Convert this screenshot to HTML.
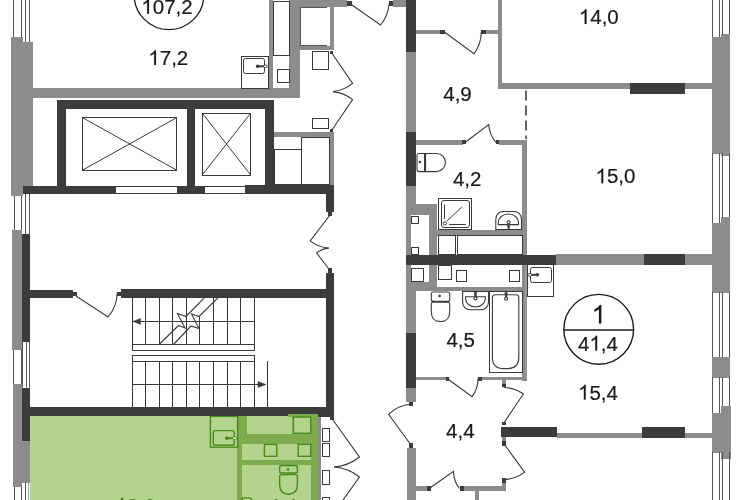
<!DOCTYPE html>
<html><head><meta charset="utf-8"><style>
html,body{margin:0;padding:0;background:#fff;}
body{width:741px;height:500px;overflow:hidden;}
svg{display:block;font-family:"Liberation Sans",sans-serif;will-change:transform;}
</style></head><body>
<svg width="741" height="500" viewBox="0 0 741 500">
<rect x="0" y="0" width="741" height="500" fill="#fff"/>
<line x1="13.50" y1="0.00" x2="13.50" y2="42.00" stroke="#555" stroke-width="1"/>
<line x1="21.50" y1="0.00" x2="21.50" y2="42.00" stroke="#555" stroke-width="1"/>
<line x1="25.50" y1="0.00" x2="25.50" y2="42.00" stroke="#555" stroke-width="1"/>
<line x1="29.50" y1="0.00" x2="29.50" y2="42.00" stroke="#555" stroke-width="1"/>
<rect x="11.40" y="37.30" width="11.50" height="158.80" fill="#8c8c8c" shape-rendering="crispEdges"/>
<rect x="22.90" y="42.00" width="10.10" height="144.30" fill="#8c8c8c" shape-rendering="crispEdges"/>
<line x1="14.50" y1="196.00" x2="14.50" y2="230.00" stroke="#555" stroke-width="1"/>
<line x1="21.50" y1="196.00" x2="21.50" y2="230.00" stroke="#555" stroke-width="1"/>
<line x1="25.50" y1="194.00" x2="25.50" y2="234.00" stroke="#555" stroke-width="1"/>
<line x1="29.50" y1="194.00" x2="29.50" y2="234.00" stroke="#555" stroke-width="1"/>
<rect x="11.90" y="229.70" width="10.10" height="120.60" fill="#8c8c8c" shape-rendering="crispEdges"/>
<rect x="22.00" y="234.00" width="8.10" height="107.90" fill="#3c3c3c" shape-rendering="crispEdges"/>
<line x1="13.50" y1="350.00" x2="13.50" y2="384.00" stroke="#555" stroke-width="1"/>
<line x1="21.50" y1="350.00" x2="21.50" y2="384.00" stroke="#555" stroke-width="1"/>
<line x1="22.50" y1="341.90" x2="22.50" y2="387.50" stroke="#555" stroke-width="1"/>
<line x1="26.50" y1="341.90" x2="26.50" y2="387.50" stroke="#555" stroke-width="1"/>
<line x1="29.50" y1="341.90" x2="29.50" y2="387.50" stroke="#555" stroke-width="1"/>
<rect x="13.00" y="383.60" width="9.00" height="103.10" fill="#8c8c8c" shape-rendering="crispEdges"/>
<rect x="21.70" y="387.50" width="8.40" height="53.50" fill="#3c3c3c" shape-rendering="crispEdges"/>
<rect x="21.70" y="441.00" width="8.40" height="41.50" fill="#8c8c8c" shape-rendering="crispEdges"/>
<line x1="14.50" y1="486.70" x2="14.50" y2="500.00" stroke="#555" stroke-width="1"/>
<line x1="21.50" y1="486.70" x2="21.50" y2="500.00" stroke="#555" stroke-width="1"/>
<line x1="25.50" y1="482.60" x2="25.50" y2="500.00" stroke="#4d4d99" stroke-width="1"/>
<line x1="28.50" y1="482.60" x2="28.50" y2="500.00" stroke="#9aa3c0" stroke-width="1"/>
<line x1="712.50" y1="0.00" x2="712.50" y2="37.00" stroke="#555" stroke-width="1"/>
<line x1="719.50" y1="0.00" x2="719.50" y2="37.00" stroke="#555" stroke-width="1"/>
<line x1="722.50" y1="0.00" x2="722.50" y2="37.00" stroke="#555" stroke-width="1"/>
<line x1="729.50" y1="0.00" x2="729.50" y2="37.00" stroke="#555" stroke-width="1"/>
<rect x="711.50" y="36.60" width="9.50" height="117.00" fill="#8c8c8c" shape-rendering="crispEdges"/>
<rect x="721.00" y="34.20" width="9.40" height="122.20" fill="#8c8c8c" shape-rendering="crispEdges"/>
<line x1="712.50" y1="153.00" x2="712.50" y2="223.00" stroke="#555" stroke-width="1"/>
<line x1="719.50" y1="153.00" x2="719.50" y2="223.00" stroke="#555" stroke-width="1"/>
<line x1="722.50" y1="153.00" x2="722.50" y2="223.00" stroke="#555" stroke-width="1"/>
<line x1="729.50" y1="153.00" x2="729.50" y2="223.00" stroke="#555" stroke-width="1"/>
<rect x="711.50" y="223.00" width="9.50" height="69.50" fill="#8c8c8c" shape-rendering="crispEdges"/>
<rect x="721.00" y="217.00" width="9.40" height="75.50" fill="#8c8c8c" shape-rendering="crispEdges"/>
<line x1="712.50" y1="292.00" x2="712.50" y2="357.00" stroke="#555" stroke-width="1"/>
<line x1="719.50" y1="292.00" x2="719.50" y2="357.00" stroke="#555" stroke-width="1"/>
<line x1="722.50" y1="292.00" x2="722.50" y2="357.00" stroke="#555" stroke-width="1"/>
<line x1="729.50" y1="292.00" x2="729.50" y2="357.00" stroke="#555" stroke-width="1"/>
<rect x="711.50" y="356.50" width="18.90" height="21.00" fill="#8c8c8c" shape-rendering="crispEdges"/>
<line x1="712.50" y1="377.00" x2="712.50" y2="413.00" stroke="#555" stroke-width="1"/>
<line x1="719.50" y1="377.00" x2="719.50" y2="413.00" stroke="#555" stroke-width="1"/>
<line x1="722.50" y1="377.00" x2="722.50" y2="413.00" stroke="#555" stroke-width="1"/>
<line x1="729.50" y1="377.00" x2="729.50" y2="413.00" stroke="#555" stroke-width="1"/>
<rect x="711.50" y="412.50" width="9.50" height="40.00" fill="#8c8c8c" shape-rendering="crispEdges"/>
<rect x="721.00" y="406.30" width="9.50" height="52.50" fill="#8c8c8c" shape-rendering="crispEdges"/>
<line x1="712.50" y1="452.00" x2="712.50" y2="500.00" stroke="#555" stroke-width="1"/>
<line x1="719.50" y1="452.00" x2="719.50" y2="500.00" stroke="#555" stroke-width="1"/>
<line x1="722.50" y1="452.00" x2="722.50" y2="500.00" stroke="#555" stroke-width="1"/>
<line x1="729.50" y1="452.00" x2="729.50" y2="500.00" stroke="#555" stroke-width="1"/>
<rect x="30.10" y="415.50" width="288.30" height="84.50" fill="#b2d48c" shape-rendering="crispEdges"/>
<rect x="317.80" y="415.50" width="3.00" height="84.50" fill="#8e8e8e" shape-rendering="crispEdges"/>
<rect x="311.00" y="414.20" width="7.40" height="85.80" fill="#7dab4e" shape-rendering="crispEdges"/>
<rect x="288.00" y="414.20" width="30.40" height="2.90" fill="#7dab4e" shape-rendering="crispEdges"/>
<rect x="237.40" y="416.00" width="4.70" height="84.00" fill="#7dab4e" shape-rendering="crispEdges"/>
<rect x="242.10" y="416.00" width="4.80" height="17.60" fill="#7dab4e" shape-rendering="crispEdges"/>
<rect x="237.40" y="433.60" width="81.00" height="10.50" fill="#7dab4e" shape-rendering="crispEdges"/>
<rect x="242.10" y="459.70" width="68.90" height="5.30" fill="#7dab4e" shape-rendering="crispEdges"/>
<rect x="293.40" y="417.10" width="17.30" height="16.20" fill="#b2d48c" stroke="#4a891b" stroke-width="1.4"/>
<rect x="292.30" y="417.10" width="1.10" height="16.50" fill="#7dab4e" shape-rendering="crispEdges"/>
<rect x="264.40" y="444.40" width="12.40" height="11.90" fill="#b2d48c" stroke="#4a891b" stroke-width="1.4"/>
<rect x="298.20" y="444.40" width="12.50" height="11.90" fill="#b2d48c" stroke="#4a891b" stroke-width="1.4"/>
<rect x="210.40" y="416.40" width="27.20" height="30.80" fill="#b2d48c" stroke="#4a891b" stroke-width="1.4"/>
<rect x="213.30" y="430.60" width="20.90" height="14.70" fill="#b2d48c" stroke="#4a891b" stroke-width="1.4" rx="2"/>
<line x1="226.80" y1="438.20" x2="234.20" y2="438.20" stroke="#4a891b" stroke-width="2.0"/>
<circle cx="226.80" cy="438.2" r="1.7" fill="#4a891b"/>
<rect x="232.80" y="436.90" width="3.6" height="2.6" rx="1.2" fill="#fff" stroke="#4a891b" stroke-width="0.9"/>
<path d="M279.6,467.5 Q279.6,465.5 281.6,465.5 L295.4,465.5 Q297.4,465.5 297.4,467.5 L297.4,471.2 Q297.4,473 295.4,473 L281.6,473 Q279.6,473 279.6,471.2 Z" stroke="#4a891b" stroke-width="1.4" fill="#b2d48c"/>
<path d="M279.6,476 Q279.6,474.6 281.2,474.6 L295.8,474.6 Q297.4,474.6 297.4,476 L297.4,484.3 Q297.4,494.3 288.5,494.3 Q279.6,494.3 279.6,484.3 Z" stroke="#4a891b" stroke-width="1.4" fill="#b2d48c"/>
<circle cx="288" cy="469.4" r="1.3" fill="#4a891b"/>
<path d="M763,0 L583,0 L583,1147 Q518,1085 412,1023 Q306,961 222,930 L222,1104 Q373,1175 486,1276 Q599,1377 646,1472 L763,1472 Z" transform="translate(115.35,512.6) scale(0.01001,-0.01001)" fill="#3f7a14" stroke="#3f7a14" stroke-width="20.0"/>
<text x="126.75" y="512.6" font-size="20.5" fill="#3f7a14" stroke="#3f7a14" stroke-width="0.2">3</text>
<text x="138.15" y="512.6" font-size="20.5" fill="#3f7a14" stroke="#3f7a14" stroke-width="0.2">,</text>
<text x="143.85" y="512.6" font-size="20.5" fill="#3f7a14" stroke="#3f7a14" stroke-width="0.2">6</text>
<text x="268.55" y="512.8" font-size="20.5" fill="#3f7a14" stroke="#3f7a14" stroke-width="0.2">4</text>
<text x="279.95" y="512.8" font-size="20.5" fill="#3f7a14" stroke="#3f7a14" stroke-width="0.2">,</text>
<text x="285.65" y="512.8" font-size="20.5" fill="#3f7a14" stroke="#3f7a14" stroke-width="0.2">4</text>
<path d="M242.3,503 L242.3,497.9 L249,497.9 Q252.2,497.9 252.2,501.5 L252.2,503" stroke="#4a891b" stroke-width="1.4" fill="none"/>
<rect x="33.00" y="88.30" width="267.00" height="9.20" fill="#8c8c8c" shape-rendering="crispEdges"/>
<circle cx="169" cy="-5.3" r="34.9" fill="none" stroke="#1a1a1a" stroke-width="1.3"/>
<path d="M763,0 L583,0 L583,1147 Q518,1085 412,1023 Q306,961 222,930 L222,1104 Q373,1175 486,1276 Q599,1377 646,1472 L763,1472 Z" transform="translate(141.35,13.7) scale(0.01001,-0.01001)" fill="#1a1a1a" stroke="#1a1a1a" stroke-width="20.0"/>
<text x="152.75" y="13.7" font-size="20.5" fill="#1a1a1a" stroke="#1a1a1a" stroke-width="0.2">0</text>
<text x="164.15" y="13.7" font-size="20.5" fill="#1a1a1a" stroke="#1a1a1a" stroke-width="0.2">7</text>
<text x="175.55" y="13.7" font-size="20.5" fill="#1a1a1a" stroke="#1a1a1a" stroke-width="0.2">,</text>
<text x="181.25" y="13.7" font-size="20.5" fill="#1a1a1a" stroke="#1a1a1a" stroke-width="0.2">2</text>
<path d="M763,0 L583,0 L583,1147 Q518,1085 412,1023 Q306,961 222,930 L222,1104 Q373,1175 486,1276 Q599,1377 646,1472 L763,1472 Z" transform="translate(148.35,64.9) scale(0.01001,-0.01001)" fill="#1a1a1a" stroke="#1a1a1a" stroke-width="20.0"/>
<text x="159.75" y="64.9" font-size="20.5" fill="#1a1a1a" stroke="#1a1a1a" stroke-width="0.2">7</text>
<text x="171.15" y="64.9" font-size="20.5" fill="#1a1a1a" stroke="#1a1a1a" stroke-width="0.2">,</text>
<text x="176.85" y="64.9" font-size="20.5" fill="#1a1a1a" stroke="#1a1a1a" stroke-width="0.2">2</text>
<rect x="269.00" y="0.00" width="31.00" height="88.30" fill="#8c8c8c" shape-rendering="crispEdges"/>
<rect x="273.30" y="0.00" width="16.00" height="88.30" fill="#fff" shape-rendering="crispEdges"/>
<rect x="273.50" y="1.50" width="16.00" height="54.00" fill="#fff" stroke="#3a3a3a" stroke-width="1"/>
<rect x="277.50" y="69.50" width="12.00" height="13.00" fill="#fff" stroke="#3a3a3a" stroke-width="1"/>
<rect x="241.50" y="56.50" width="27.00" height="32.00" fill="#fff" stroke="#3a3a3a" stroke-width="1"/>
<rect x="243.50" y="58.50" width="21.00" height="15.00" fill="#fff" stroke="#3a3a3a" stroke-width="1" rx="2"/>
<line x1="257.60" y1="66.30" x2="265.00" y2="66.30" stroke="#3a3a3a" stroke-width="2.0"/>
<circle cx="257.60" cy="66.3" r="1.7" fill="#3a3a3a"/>
<rect x="263.60" y="65.00" width="3.6" height="2.6" rx="1.2" fill="#fff" stroke="#3a3a3a" stroke-width="0.9"/>
<rect x="289.80" y="0.00" width="57.20" height="7.00" fill="#8c8c8c" shape-rendering="crispEdges"/>
<rect x="299.40" y="7.00" width="34.20" height="43.40" fill="#8c8c8c" shape-rendering="crispEdges"/>
<rect x="300.50" y="7.50" width="27.00" height="38.00" fill="#fff" stroke="#555" stroke-width="1"/>
<rect x="327.30" y="7.00" width="2.70" height="38.60" fill="#fff" shape-rendering="crispEdges"/>
<rect x="312.50" y="51.50" width="16.00" height="18.00" fill="#fff" stroke="#3a3a3a" stroke-width="1"/>
<rect x="329.80" y="50.80" width="3.60" height="3.60" fill="#3c3c3c" shape-rendering="crispEdges"/>
<rect x="340.00" y="0.00" width="7.40" height="7.00" fill="#8c8c8c" shape-rendering="crispEdges"/>
<rect x="347.40" y="1.40" width="4.20" height="4.20" fill="#3c3c3c" shape-rendering="crispEdges"/>
<path d="M350.50,4.00 L380.50,25.00 A36.62,36.62 0 0 0 389.00,4.20" stroke="#3a3a3a" stroke-width="1.1" fill="none"/>
<rect x="388.90" y="1.40" width="4.20" height="4.20" fill="#3c3c3c" shape-rendering="crispEdges"/>
<rect x="393.20" y="0.00" width="13.10" height="7.00" fill="#8c8c8c" shape-rendering="crispEdges"/>
<rect x="56.80" y="100.40" width="216.80" height="8.60" fill="#3c3c3c" shape-rendering="crispEdges"/>
<rect x="56.80" y="100.40" width="9.30" height="93.90" fill="#3c3c3c" shape-rendering="crispEdges"/>
<rect x="186.60" y="100.40" width="8.70" height="93.90" fill="#3c3c3c" shape-rendering="crispEdges"/>
<rect x="265.40" y="100.40" width="8.20" height="93.90" fill="#3c3c3c" shape-rendering="crispEdges"/>
<rect x="23.00" y="186.20" width="92.80" height="8.10" fill="#3c3c3c" shape-rendering="crispEdges"/>
<rect x="115.80" y="186.20" width="61.40" height="8.10" fill="#fff" shape-rendering="crispEdges"/>
<line x1="115.80" y1="186.50" x2="177.20" y2="186.50" stroke="#3a3a3a" stroke-width="1"/>
<line x1="115.80" y1="193.50" x2="177.20" y2="193.50" stroke="#3a3a3a" stroke-width="1"/>
<rect x="177.20" y="185.60" width="27.40" height="8.70" fill="#3c3c3c" shape-rendering="crispEdges"/>
<rect x="204.60" y="186.20" width="40.30" height="8.10" fill="#fff" shape-rendering="crispEdges"/>
<line x1="204.60" y1="186.50" x2="244.90" y2="186.50" stroke="#3a3a3a" stroke-width="1"/>
<line x1="204.60" y1="193.50" x2="244.90" y2="193.50" stroke="#3a3a3a" stroke-width="1"/>
<rect x="244.90" y="185.20" width="89.00" height="8.80" fill="#3c3c3c" shape-rendering="crispEdges"/>
<rect x="82.50" y="117.50" width="94.00" height="53.00" fill="#fff" stroke="#3a3a3a" stroke-width="1"/>
<line x1="82.60" y1="117.70" x2="176.60" y2="170.10" stroke="#3a3a3a" stroke-width="1"/>
<line x1="82.60" y1="170.10" x2="176.60" y2="117.70" stroke="#3a3a3a" stroke-width="1"/>
<rect x="202.50" y="113.50" width="48.00" height="62.00" fill="#fff" stroke="#3a3a3a" stroke-width="1"/>
<line x1="202.10" y1="113.00" x2="250.80" y2="175.10" stroke="#3a3a3a" stroke-width="1"/>
<line x1="202.10" y1="175.10" x2="250.80" y2="113.00" stroke="#3a3a3a" stroke-width="1"/>
<rect x="273.60" y="132.10" width="60.30" height="4.50" fill="#8c8c8c" shape-rendering="crispEdges"/>
<rect x="330.30" y="132.10" width="3.60" height="53.10" fill="#8c8c8c" shape-rendering="crispEdges"/>
<rect x="274.50" y="149.50" width="27.00" height="35.00" fill="#fff" stroke="#3a3a3a" stroke-width="1"/>
<rect x="301.50" y="137.50" width="28.00" height="47.00" fill="#fff" stroke="#3a3a3a" stroke-width="1"/>
<rect x="312.50" y="118.50" width="16.00" height="10.00" fill="#fff" stroke="#3a3a3a" stroke-width="1"/>
<rect x="329.80" y="128.70" width="3.60" height="3.60" fill="#3c3c3c" shape-rendering="crispEdges"/>
<path d="M331.60,52.80 L352.60,83.40 A37.11,37.11 0 0 1 333.00,91.60" stroke="#3a3a3a" stroke-width="1.1" fill="none"/>
<path d="M331.60,130.50 L352.60,99.60 A37.36,37.36 0 0 0 333.00,91.60" stroke="#3a3a3a" stroke-width="1.1" fill="none"/>
<rect x="325.50" y="185.20" width="8.60" height="26.40" fill="#3c3c3c" shape-rendering="crispEdges"/>
<rect x="327.75" y="211.15" width="4.50" height="4.50" fill="#3c3c3c" shape-rendering="crispEdges"/>
<path d="M330.00,215.00 L310.20,240.90 A32.60,32.60 0 0 0 328.70,248.10" stroke="#3a3a3a" stroke-width="1.1" fill="none"/>
<path d="M330.00,270.50 L316.60,252.90 A22.12,22.12 0 0 1 328.70,248.10" stroke="#3a3a3a" stroke-width="1.1" fill="none"/>
<rect x="327.75" y="268.35" width="4.50" height="4.50" fill="#3c3c3c" shape-rendering="crispEdges"/>
<rect x="325.50" y="272.70" width="8.60" height="144.10" fill="#3c3c3c" shape-rendering="crispEdges"/>
<rect x="330.00" y="416.80" width="3.60" height="3.60" fill="#3c3c3c" shape-rendering="crispEdges"/>
<rect x="30.00" y="289.60" width="43.20" height="8.80" fill="#3c3c3c" shape-rendering="crispEdges"/>
<rect x="72.90" y="292.10" width="4.20" height="4.20" fill="#3c3c3c" shape-rendering="crispEdges"/>
<path d="M76.00,296.00 L108.00,317.00 A38.28,38.28 0 0 0 117.20,293.20" stroke="#3a3a3a" stroke-width="1.1" fill="none"/>
<rect x="116.50" y="292.10" width="4.20" height="4.20" fill="#3c3c3c" shape-rendering="crispEdges"/>
<rect x="120.80" y="289.00" width="204.70" height="8.70" fill="#3c3c3c" shape-rendering="crispEdges"/>
<line x1="132.50" y1="297.70" x2="132.50" y2="344.50" stroke="#3a3a3a" stroke-width="1"/>
<line x1="132.50" y1="361.20" x2="132.50" y2="407.50" stroke="#3a3a3a" stroke-width="1"/>
<line x1="145.50" y1="297.70" x2="145.50" y2="344.50" stroke="#3a3a3a" stroke-width="1"/>
<line x1="145.50" y1="361.20" x2="145.50" y2="407.50" stroke="#3a3a3a" stroke-width="1"/>
<line x1="159.50" y1="297.70" x2="159.50" y2="344.50" stroke="#3a3a3a" stroke-width="1"/>
<line x1="159.50" y1="361.20" x2="159.50" y2="407.50" stroke="#3a3a3a" stroke-width="1"/>
<line x1="172.50" y1="297.70" x2="172.50" y2="344.50" stroke="#3a3a3a" stroke-width="1"/>
<line x1="172.50" y1="361.20" x2="172.50" y2="407.50" stroke="#3a3a3a" stroke-width="1"/>
<line x1="186.50" y1="297.70" x2="186.50" y2="344.50" stroke="#3a3a3a" stroke-width="1"/>
<line x1="186.50" y1="361.20" x2="186.50" y2="407.50" stroke="#3a3a3a" stroke-width="1"/>
<line x1="199.50" y1="316.50" x2="199.50" y2="344.50" stroke="#3a3a3a" stroke-width="1"/>
<line x1="199.50" y1="361.20" x2="199.50" y2="407.50" stroke="#3a3a3a" stroke-width="1"/>
<line x1="213.50" y1="297.70" x2="213.50" y2="344.50" stroke="#3a3a3a" stroke-width="1"/>
<line x1="213.50" y1="361.20" x2="213.50" y2="407.50" stroke="#3a3a3a" stroke-width="1"/>
<line x1="227.50" y1="297.70" x2="227.50" y2="344.50" stroke="#3a3a3a" stroke-width="1"/>
<line x1="227.50" y1="361.20" x2="227.50" y2="407.50" stroke="#3a3a3a" stroke-width="1"/>
<line x1="240.50" y1="297.70" x2="240.50" y2="344.50" stroke="#3a3a3a" stroke-width="1"/>
<line x1="240.50" y1="361.20" x2="240.50" y2="407.50" stroke="#3a3a3a" stroke-width="1"/>
<line x1="254.50" y1="297.70" x2="254.50" y2="344.50" stroke="#3a3a3a" stroke-width="1"/>
<line x1="254.50" y1="361.20" x2="254.50" y2="407.50" stroke="#3a3a3a" stroke-width="1"/>
<line x1="132.00" y1="321.50" x2="254.20" y2="321.50" stroke="#3a3a3a" stroke-width="1"/>
<path d="M133,321.4 L140.5,318.4 L140.5,324.4 Z" stroke="#3a3a3a" stroke-width="0.5" fill="#3a3a3a"/>
<rect x="132.50" y="344.50" width="122.00" height="6.00" fill="#fff" stroke="#3a3a3a" stroke-width="1"/>
<rect x="132.50" y="355.50" width="122.00" height="6.00" fill="#fff" stroke="#3a3a3a" stroke-width="1"/>
<line x1="132.00" y1="384.50" x2="262.00" y2="384.50" stroke="#3a3a3a" stroke-width="1"/>
<path d="M266,384.6 L258,381.6 L258,387.6 Z" stroke="#3a3a3a" stroke-width="0.5" fill="#3a3a3a"/>
<line x1="267.50" y1="361.00" x2="267.50" y2="407.50" stroke="#3a3a3a" stroke-width="1"/>
<path d="M159,344.5 L178.5,325.5 L185,328 L177.5,313.5 L186,316.5 L204.5,297.7" stroke="#3a3a3a" stroke-width="1.1" fill="none"/>
<path d="M173.5,344.5 L191,326 L199,328.5 L191.5,314 L199,316.5 L218.2,297.7" stroke="#3a3a3a" stroke-width="1.1" fill="none"/>
<rect x="22.00" y="407.20" width="266.00" height="8.40" fill="#3c3c3c" shape-rendering="crispEdges"/>
<rect x="288.00" y="407.20" width="46.00" height="7.00" fill="#3c3c3c" shape-rendering="crispEdges"/>
<rect x="317.80" y="407.20" width="16.20" height="9.60" fill="#3c3c3c" shape-rendering="crispEdges"/>
<path d="M333.00,420.00 L359.40,457.00 A45.45,45.45 0 0 1 334.00,467.00" stroke="#3a3a3a" stroke-width="1.1" fill="none"/>
<path d="M333.00,514.00 L359.40,477.00 A45.45,45.45 0 0 0 334.00,467.00" stroke="#3a3a3a" stroke-width="1.1" fill="none"/>
<rect x="322.50" y="428.50" width="7.00" height="13.00" fill="#fff" stroke="#3a3a3a" stroke-width="1"/>
<rect x="322.50" y="443.50" width="7.00" height="13.00" fill="#fff" stroke="#3a3a3a" stroke-width="1"/>
<rect x="322.50" y="470.50" width="7.00" height="14.00" fill="#fff" stroke="#3a3a3a" stroke-width="1"/>
<rect x="322.50" y="497.50" width="7.00" height="5.00" fill="#fff" stroke="#3a3a3a" stroke-width="1"/>
<rect x="406.30" y="0.00" width="9.30" height="52.00" fill="#3c3c3c" shape-rendering="crispEdges"/>
<rect x="406.30" y="52.00" width="9.30" height="80.00" fill="#8c8c8c" shape-rendering="crispEdges"/>
<rect x="406.30" y="132.00" width="9.30" height="54.30" fill="#3c3c3c" shape-rendering="crispEdges"/>
<rect x="406.30" y="186.30" width="9.30" height="17.70" fill="#8c8c8c" shape-rendering="crispEdges"/>
<rect x="406.30" y="204.00" width="30.90" height="10.80" fill="#8c8c8c" shape-rendering="crispEdges"/>
<rect x="406.30" y="214.80" width="4.70" height="67.20" fill="#8c8c8c" shape-rendering="crispEdges"/>
<rect x="429.40" y="214.80" width="7.80" height="76.20" fill="#8c8c8c" shape-rendering="crispEdges"/>
<rect x="406.30" y="282.00" width="30.90" height="9.00" fill="#8c8c8c" shape-rendering="crispEdges"/>
<rect x="411.50" y="216.50" width="7.00" height="7.00" fill="#fff" stroke="#3a3a3a" stroke-width="1"/>
<rect x="411.50" y="247.50" width="7.00" height="7.00" fill="#fff" stroke="#3a3a3a" stroke-width="1"/>
<rect x="411.50" y="268.50" width="12.00" height="13.00" fill="#fff" stroke="#3a3a3a" stroke-width="1"/>
<rect x="406.30" y="291.00" width="9.30" height="41.50" fill="#8c8c8c" shape-rendering="crispEdges"/>
<rect x="406.30" y="332.50" width="9.30" height="55.50" fill="#3c3c3c" shape-rendering="crispEdges"/>
<rect x="406.30" y="388.00" width="9.30" height="14.00" fill="#8c8c8c" shape-rendering="crispEdges"/>
<rect x="408.90" y="402.10" width="4.20" height="4.20" fill="#3c3c3c" shape-rendering="crispEdges"/>
<path d="M411.00,445.00 L388.60,414.40 A37.92,37.92 0 0 1 411.00,404.00" stroke="#3a3a3a" stroke-width="1.1" fill="none"/>
<rect x="408.80" y="443.20" width="4.20" height="4.30" fill="#3c3c3c" shape-rendering="crispEdges"/>
<rect x="406.70" y="447.50" width="9.40" height="52.50" fill="#8c8c8c" shape-rendering="crispEdges"/>
<rect x="415.60" y="29.50" width="24.40" height="4.30" fill="#8c8c8c" shape-rendering="crispEdges"/>
<rect x="440.20" y="29.50" width="4.40" height="4.40" fill="#3c3c3c" shape-rendering="crispEdges"/>
<path d="M444.00,31.70 L474.00,53.80 A37.26,37.26 0 0 0 481.30,31.70" stroke="#3a3a3a" stroke-width="1.1" fill="none"/>
<rect x="481.20" y="29.50" width="4.40" height="4.40" fill="#3c3c3c" shape-rendering="crispEdges"/>
<rect x="485.50" y="29.50" width="14.50" height="4.30" fill="#8c8c8c" shape-rendering="crispEdges"/>
<rect x="497.60" y="0.00" width="4.80" height="88.60" fill="#8c8c8c" shape-rendering="crispEdges"/>
<rect x="497.60" y="83.30" width="213.90" height="5.30" fill="#8c8c8c" shape-rendering="crispEdges"/>
<rect x="629.50" y="83.30" width="55.50" height="10.90" fill="#3c3c3c" shape-rendering="crispEdges"/>
<text x="443.25" y="100.5" font-size="20.5" fill="#1a1a1a" stroke="#1a1a1a" stroke-width="0.2">4</text>
<text x="454.65" y="100.5" font-size="20.5" fill="#1a1a1a" stroke="#1a1a1a" stroke-width="0.2">,</text>
<text x="460.35" y="100.5" font-size="20.5" fill="#1a1a1a" stroke="#1a1a1a" stroke-width="0.2">9</text>
<path d="M763,0 L583,0 L583,1147 Q518,1085 412,1023 Q306,961 222,930 L222,1104 Q373,1175 486,1276 Q599,1377 646,1472 L763,1472 Z" transform="translate(578.85,23.9) scale(0.01001,-0.01001)" fill="#1a1a1a" stroke="#1a1a1a" stroke-width="20.0"/>
<text x="590.25" y="23.9" font-size="20.5" fill="#1a1a1a" stroke="#1a1a1a" stroke-width="0.2">4</text>
<text x="601.65" y="23.9" font-size="20.5" fill="#1a1a1a" stroke="#1a1a1a" stroke-width="0.2">,</text>
<text x="607.35" y="23.9" font-size="20.5" fill="#1a1a1a" stroke="#1a1a1a" stroke-width="0.2">0</text>
<line x1="526.00" y1="90.40" x2="526.00" y2="139.00" stroke="#555" stroke-width="1.8" stroke-dasharray="10,5"/>
<rect x="415.60" y="140.00" width="46.90" height="4.50" fill="#8c8c8c" shape-rendering="crispEdges"/>
<rect x="462.20" y="140.40" width="3.60" height="3.60" fill="#3c3c3c" shape-rendering="crispEdges"/>
<path d="M465.00,142.50 L488.75,124.50 A29.80,29.80 0 0 0 496.00,142.50" stroke="#3a3a3a" stroke-width="1.1" fill="none"/>
<rect x="495.70" y="140.40" width="3.60" height="3.60" fill="#3c3c3c" shape-rendering="crispEdges"/>
<rect x="499.30" y="140.00" width="27.00" height="4.50" fill="#8c8c8c" shape-rendering="crispEdges"/>
<rect x="521.70" y="140.00" width="4.90" height="240.50" fill="#8c8c8c" shape-rendering="crispEdges"/>
<path d="M425.5,153.5 L436.4,153.5 A9.05,9.05 0 0 1 436.4,171.6 L425.5,171.6 Z" stroke="#3a3a3a" stroke-width="1.1" fill="#fff"/>
<path d="M419,153.5 L425.5,153.5 L425.5,171.6 L419,171.6 Q417,171.6 417,169.6 L417,155.5 Q417,153.5 419,153.5 Z" stroke="#3a3a3a" stroke-width="1.1" fill="#fff"/>
<line x1="424.50" y1="154.00" x2="424.50" y2="171.00" stroke="#3a3a3a" stroke-width="1"/>
<circle cx="419.9" cy="162" r="1.3" fill="#3a3a3a"/>
<text x="452.95" y="186.3" font-size="20.5" fill="#1a1a1a" stroke="#1a1a1a" stroke-width="0.2">4</text>
<text x="464.35" y="186.3" font-size="20.5" fill="#1a1a1a" stroke="#1a1a1a" stroke-width="0.2">,</text>
<text x="470.05" y="186.3" font-size="20.5" fill="#1a1a1a" stroke="#1a1a1a" stroke-width="0.2">2</text>
<rect x="438.50" y="198.50" width="33.00" height="31.00" fill="#fff" stroke="#3a3a3a" stroke-width="1"/>
<rect x="441.50" y="200.50" width="28.00" height="27.00" fill="#fff" stroke="#3a3a3a" stroke-width="1" rx="2.5"/>
<line x1="444.50" y1="204.60" x2="444.50" y2="219.00" stroke="#3a3a3a" stroke-width="1"/>
<line x1="449.20" y1="224.50" x2="465.70" y2="224.50" stroke="#3a3a3a" stroke-width="1"/>
<line x1="447.00" y1="221.00" x2="461.90" y2="207.00" stroke="#3a3a3a" stroke-width="1"/>
<circle cx="444.8" cy="223.3" r="1.6" fill="#fff" stroke="#3a3a3a" stroke-width="1"/>
<path d="M495.8,229.6 L495.8,219.8 Q495.8,211.5 504.1,211.5 L513.2,211.5 Q521.5,211.5 521.5,219.8 L521.5,229.6 Z" stroke="#3a3a3a" stroke-width="1.1" fill="#fff"/>
<path d="M498.3,224.6 L518.5,224.6 L518.5,222.5 A10.1,8.5 0 0 0 498.3,222.5 Z" stroke="#3a3a3a" stroke-width="1.1" fill="#fff"/>
<path d="M507.4,224 L509.8,224 L509.2,228.8 L508,228.8 Z" stroke="#3a3a3a" stroke-width="0.6" fill="#3a3a3a"/>
<circle cx="508.6" cy="222.3" r="1.5" fill="#fff" stroke="#3a3a3a" stroke-width="1.1"/>
<rect x="429.40" y="229.80" width="92.60" height="6.00" fill="#8c8c8c" shape-rendering="crispEdges"/>
<rect x="438.50" y="235.50" width="17.00" height="19.00" fill="#fff" stroke="#3a3a3a" stroke-width="1"/>
<rect x="457.50" y="235.50" width="65.00" height="19.00" fill="#fff" stroke="#3a3a3a" stroke-width="1"/>
<rect x="406.30" y="254.60" width="149.20" height="10.10" fill="#3c3c3c" shape-rendering="crispEdges"/>
<rect x="555.50" y="254.40" width="88.50" height="10.60" fill="#8c8c8c" shape-rendering="crispEdges"/>
<rect x="644.00" y="254.40" width="41.00" height="10.60" fill="#3c3c3c" shape-rendering="crispEdges"/>
<rect x="685.00" y="254.40" width="26.50" height="10.60" fill="#8c8c8c" shape-rendering="crispEdges"/>
<rect x="438.50" y="265.50" width="13.00" height="14.00" fill="#fff" stroke="#3a3a3a" stroke-width="1"/>
<rect x="456.50" y="270.50" width="10.00" height="11.00" fill="#fff" stroke="#3a3a3a" stroke-width="1"/>
<rect x="509.50" y="270.50" width="10.00" height="11.00" fill="#fff" stroke="#3a3a3a" stroke-width="1"/>
<rect x="437.20" y="286.70" width="84.80" height="4.30" fill="#8c8c8c" shape-rendering="crispEdges"/>
<path d="M431.3,294 Q431.3,292 433.3,292 L447.7,292 Q449.7,292 449.7,294 L449.7,299.4 Q449.7,301.4 447.7,301.4 L433.3,301.4 Q431.3,301.4 431.3,299.4 Z" stroke="#3a3a3a" stroke-width="1.1" fill="#fff"/>
<path d="M431.3,303.6 Q431.3,302.2 433,302.2 L448,302.2 Q449.7,302.2 449.7,303.6 L449.7,311.5 Q449.7,321.6 440.5,321.6 Q431.3,321.6 431.3,311.5 Z" stroke="#3a3a3a" stroke-width="1.1" fill="#fff"/>
<circle cx="439.7" cy="296" r="1.3" fill="#3a3a3a"/>
<path d="M462.6,291.5 L462.6,301.4 Q462.6,309.7 470.9,309.7 L480.2,309.7 Q488.5,309.7 488.5,301.4 L488.5,291.5 Z" stroke="#3a3a3a" stroke-width="1.1" fill="#fff"/>
<path d="M465.6,296.8 L485.3,296.8 L485.3,298.5 A9.85,8.5 0 0 1 465.6,298.5 Z" stroke="#3a3a3a" stroke-width="1.1" fill="#fff"/>
<path d="M474.3,291.5 L476.7,291.5 L476.2,296.5 L474.8,296.5 Z" stroke="#3a3a3a" stroke-width="0.6" fill="#3a3a3a"/>
<circle cx="475.5" cy="298.4" r="1.5" fill="#fff" stroke="#3a3a3a" stroke-width="1.1"/>
<rect x="489.50" y="291.50" width="33.00" height="81.00" fill="#fff" stroke="#3a3a3a" stroke-width="1"/>
<path d="M492.4,297.6 Q492.4,294.8 495.2,294.8 L516,294.8 Q518.8,294.8 518.8,297.6 L518.8,357.5 Q518.8,368.6 507.5,368.6 L503.7,368.6 Q492.4,368.6 492.4,357.5 Z" stroke="#3a3a3a" stroke-width="1.1" fill="#fff"/>
<path d="M504.9,292.6 L507.3,292.6 L506.8,297 L505.4,297 Z" stroke="#3a3a3a" stroke-width="0.6" fill="#3a3a3a"/>
<circle cx="506.1" cy="298.8" r="1.5" fill="#fff" stroke="#3a3a3a" stroke-width="1.1"/>
<text x="446.45" y="346.9" font-size="20.5" fill="#1a1a1a" stroke="#1a1a1a" stroke-width="0.2">4</text>
<text x="457.85" y="346.9" font-size="20.5" fill="#1a1a1a" stroke="#1a1a1a" stroke-width="0.2">,</text>
<text x="463.55" y="346.9" font-size="20.5" fill="#1a1a1a" stroke="#1a1a1a" stroke-width="0.2">5</text>
<rect x="415.60" y="376.90" width="30.20" height="3.40" fill="#8c8c8c" shape-rendering="crispEdges"/>
<rect x="445.80" y="376.90" width="3.40" height="3.60" fill="#3c3c3c" shape-rendering="crispEdges"/>
<path d="M447.50,378.70 L472.10,396.70 A30.48,30.48 0 0 0 478.00,378.70" stroke="#3a3a3a" stroke-width="1.1" fill="none"/>
<rect x="478.20" y="376.90" width="3.40" height="3.60" fill="#3c3c3c" shape-rendering="crispEdges"/>
<rect x="481.60" y="376.90" width="45.20" height="3.40" fill="#8c8c8c" shape-rendering="crispEdges"/>
<rect x="501.80" y="380.30" width="4.10" height="3.70" fill="#8c8c8c" shape-rendering="crispEdges"/>
<rect x="527.50" y="264.50" width="26.00" height="32.00" fill="#fff" stroke="#3a3a3a" stroke-width="1"/>
<rect x="530.50" y="267.50" width="21.00" height="15.00" fill="#fff" stroke="#3a3a3a" stroke-width="1" rx="2"/>
<line x1="537.40" y1="274.80" x2="530.10" y2="274.80" stroke="#3a3a3a" stroke-width="2.0"/>
<circle cx="537.40" cy="274.8" r="1.7" fill="#3a3a3a"/>
<rect x="527.90" y="273.50" width="3.6" height="2.6" rx="1.2" fill="#fff" stroke="#3a3a3a" stroke-width="0.9"/>
<rect x="525.00" y="264.70" width="2.00" height="113.30" fill="#9a9a9a" shape-rendering="crispEdges"/>
<rect x="501.80" y="383.90" width="4.10" height="3.50" fill="#3c3c3c" shape-rendering="crispEdges"/>
<path d="M503.80,423.00 L523.40,394.00 A35.00,35.00 0 0 0 503.80,387.50" stroke="#3a3a3a" stroke-width="1.1" fill="none"/>
<rect x="501.80" y="421.70" width="4.10" height="3.00" fill="#3c3c3c" shape-rendering="crispEdges"/>
<rect x="501.30" y="427.10" width="55.40" height="10.20" fill="#3c3c3c" shape-rendering="crispEdges"/>
<rect x="556.70" y="432.50" width="85.60" height="5.00" fill="#8c8c8c" shape-rendering="crispEdges"/>
<rect x="642.30" y="427.00" width="42.50" height="10.50" fill="#3c3c3c" shape-rendering="crispEdges"/>
<rect x="684.80" y="432.50" width="26.70" height="5.00" fill="#8c8c8c" shape-rendering="crispEdges"/>
<rect x="501.80" y="437.00" width="4.30" height="4.50" fill="#8c8c8c" shape-rendering="crispEdges"/>
<rect x="501.80" y="441.40" width="4.30" height="4.40" fill="#3c3c3c" shape-rendering="crispEdges"/>
<path d="M504.00,444.00 L524.60,472.10 A34.84,34.84 0 0 1 504.00,479.50" stroke="#3a3a3a" stroke-width="1.1" fill="none"/>
<rect x="501.80" y="478.20" width="4.30" height="4.40" fill="#3c3c3c" shape-rendering="crispEdges"/>
<text x="446.05" y="437.8" font-size="20.5" fill="#1a1a1a" stroke="#1a1a1a" stroke-width="0.2">4</text>
<text x="457.45" y="437.8" font-size="20.5" fill="#1a1a1a" stroke="#1a1a1a" stroke-width="0.2">,</text>
<text x="463.15" y="437.8" font-size="20.5" fill="#1a1a1a" stroke="#1a1a1a" stroke-width="0.2">4</text>
<rect x="416.10" y="486.10" width="11.10" height="4.40" fill="#8c8c8c" shape-rendering="crispEdges"/>
<rect x="427.20" y="486.30" width="4.00" height="4.20" fill="#3c3c3c" shape-rendering="crispEdges"/>
<path d="M429.20,488.50 L453.50,471.20 A29.83,29.83 0 0 0 459.30,488.50" stroke="#3a3a3a" stroke-width="1.1" fill="none"/>
<rect x="459.60" y="486.30" width="3.90" height="4.20" fill="#3c3c3c" shape-rendering="crispEdges"/>
<rect x="463.50" y="486.10" width="42.60" height="4.40" fill="#8c8c8c" shape-rendering="crispEdges"/>
<rect x="501.80" y="482.60" width="4.30" height="7.90" fill="#8c8c8c" shape-rendering="crispEdges"/>
<rect x="474.60" y="490.50" width="4.40" height="9.50" fill="#8c8c8c" shape-rendering="crispEdges"/>
<path d="M763,0 L583,0 L583,1147 Q518,1085 412,1023 Q306,961 222,930 L222,1104 Q373,1175 486,1276 Q599,1377 646,1472 L763,1472 Z" transform="translate(595.55,183.2) scale(0.01001,-0.01001)" fill="#1a1a1a" stroke="#1a1a1a" stroke-width="20.0"/>
<text x="606.95" y="183.2" font-size="20.5" fill="#1a1a1a" stroke="#1a1a1a" stroke-width="0.2">5</text>
<text x="618.35" y="183.2" font-size="20.5" fill="#1a1a1a" stroke="#1a1a1a" stroke-width="0.2">,</text>
<text x="624.05" y="183.2" font-size="20.5" fill="#1a1a1a" stroke="#1a1a1a" stroke-width="0.2">0</text>
<circle cx="598.7" cy="329.3" r="34.9" fill="none" stroke="#1a1a1a" stroke-width="1.4"/>
<line x1="564.00" y1="330.00" x2="633.50" y2="330.00" stroke="#1a1a1a" stroke-width="1.4"/>
<path d="M763,0 L583,0 L583,1147 Q518,1085 412,1023 Q306,961 222,930 L222,1104 Q373,1175 486,1276 Q599,1377 646,1472 L763,1472 Z" transform="translate(591.60,323.5) scale(0.01265,-0.01265)" fill="#1a1a1a" stroke="#1a1a1a" stroke-width="15.8"/>
<text x="578.05" y="350.5" font-size="20.5" fill="#1a1a1a" stroke="#1a1a1a" stroke-width="0.2">4</text>
<path d="M763,0 L583,0 L583,1147 Q518,1085 412,1023 Q306,961 222,930 L222,1104 Q373,1175 486,1276 Q599,1377 646,1472 L763,1472 Z" transform="translate(589.45,350.5) scale(0.01001,-0.01001)" fill="#1a1a1a" stroke="#1a1a1a" stroke-width="20.0"/>
<text x="600.85" y="350.5" font-size="20.5" fill="#1a1a1a" stroke="#1a1a1a" stroke-width="0.2">,</text>
<text x="606.55" y="350.5" font-size="20.5" fill="#1a1a1a" stroke="#1a1a1a" stroke-width="0.2">4</text>
<path d="M763,0 L583,0 L583,1147 Q518,1085 412,1023 Q306,961 222,930 L222,1104 Q373,1175 486,1276 Q599,1377 646,1472 L763,1472 Z" transform="translate(578.05,399.5) scale(0.01001,-0.01001)" fill="#1a1a1a" stroke="#1a1a1a" stroke-width="20.0"/>
<text x="589.45" y="399.5" font-size="20.5" fill="#1a1a1a" stroke="#1a1a1a" stroke-width="0.2">5</text>
<text x="600.85" y="399.5" font-size="20.5" fill="#1a1a1a" stroke="#1a1a1a" stroke-width="0.2">,</text>
<text x="606.55" y="399.5" font-size="20.5" fill="#1a1a1a" stroke="#1a1a1a" stroke-width="0.2">4</text>
</svg>
</body></html>
